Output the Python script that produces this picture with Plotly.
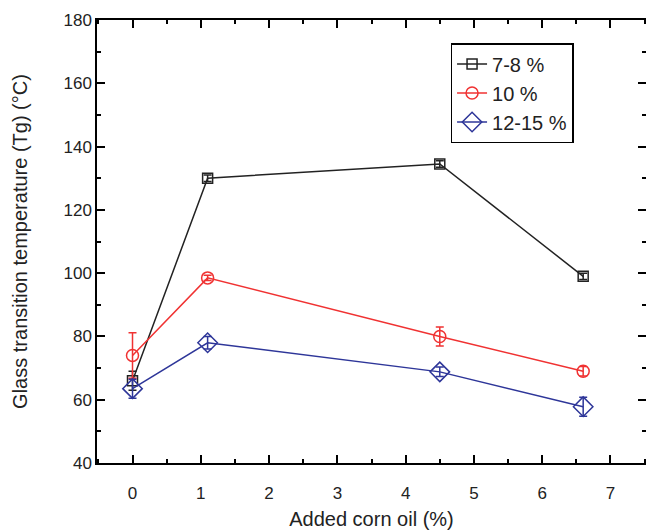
import plotly.graph_objects as go

oil = [0, 1.1, 4.5, 6.6]
names = ["7-8 %", "10 %", "12-15 %"]
tg_78 = [66, 130, 134.5, 99]
err_78 = [3, 1, 1, 1]
tg_10 = [74, 98.5, 80, 69]
err_10 = [7.2, 0.8, 3, 1.5]
tg_1215 = [63.5, 78, 68.8, 57.8]
err_1215 = [3, 2, 1.5, 3]

colors = ["#222222", "#f03232", "#2e3699"]
symbols = ["square-open", "circle-open", "diamond-open"]
sizes = [10, 12, 15]

fig = go.Figure()
for name, ys, es, c, s, sz in zip(names, [tg_78, tg_10, tg_1215], [err_78, err_10, err_1215], colors, symbols, sizes):
    fig.add_trace(go.Scatter(
        x=oil, y=ys, name=name, mode="lines+markers",
        line=dict(color=c, width=1.5),
        marker=dict(symbol=s, size=sz, color=c, line=dict(width=1.5, color=c)),
        error_y=dict(type="data", array=es, visible=True, color=c, thickness=1.5, width=4),
    ))

axis_common = dict(
    showline=True, linecolor="black", linewidth=1.5, mirror="allticks",
    ticks="inside", ticklen=8, tickwidth=1.5, tickcolor="black",
    showgrid=False, zeroline=False,
    tickfont=dict(family="Liberation Sans, Arial", size=17, color="#222"),
)

fig.update_xaxes(
    range=[-0.52, 7.52], tickmode="array", tickvals=list(range(0, 8)),
    minor=dict(ticks="inside", ticklen=4, tickwidth=1.5, tickcolor="black", dtick=0.5, tick0=0.5),
    ticklabelstandoff=14,
    title=dict(text="Added corn oil (%)", font=dict(family="Liberation Sans, Arial", size=20, color="#222"), standoff=10),
    **axis_common,
)
fig.update_yaxes(
    range=[40, 180], tickmode="array", tickvals=list(range(40, 181, 20)),
    minor=dict(ticks="inside", ticklen=4, tickwidth=1.5, tickcolor="black", dtick=10, tick0=50),
    title=dict(text="Glass transition temperature (Tg) (°C)", font=dict(family="Liberation Sans, Arial", size=20, color="#222"), standoff=30),
    **axis_common,
)

fig.update_layout(
    width=648, height=530,
    margin=dict(l=97, r=0, t=20, b=67),
    plot_bgcolor="white", paper_bgcolor="white",
    legend=dict(
        x=0.644, y=0.948, xanchor="left", yanchor="top",
        bordercolor="black", borderwidth=1.5, bgcolor="white",
        font=dict(family="Liberation Sans, Arial", size=20, color="#222"),
        tracegroupgap=0, itemsizing="trace", entrywidth=155,
    ),
    showlegend=True,
)

fig.write_html("out.html", config={"displayModeBar": False},
               post_script="document.body.style.margin='0';document.body.style.overflow='hidden';")
